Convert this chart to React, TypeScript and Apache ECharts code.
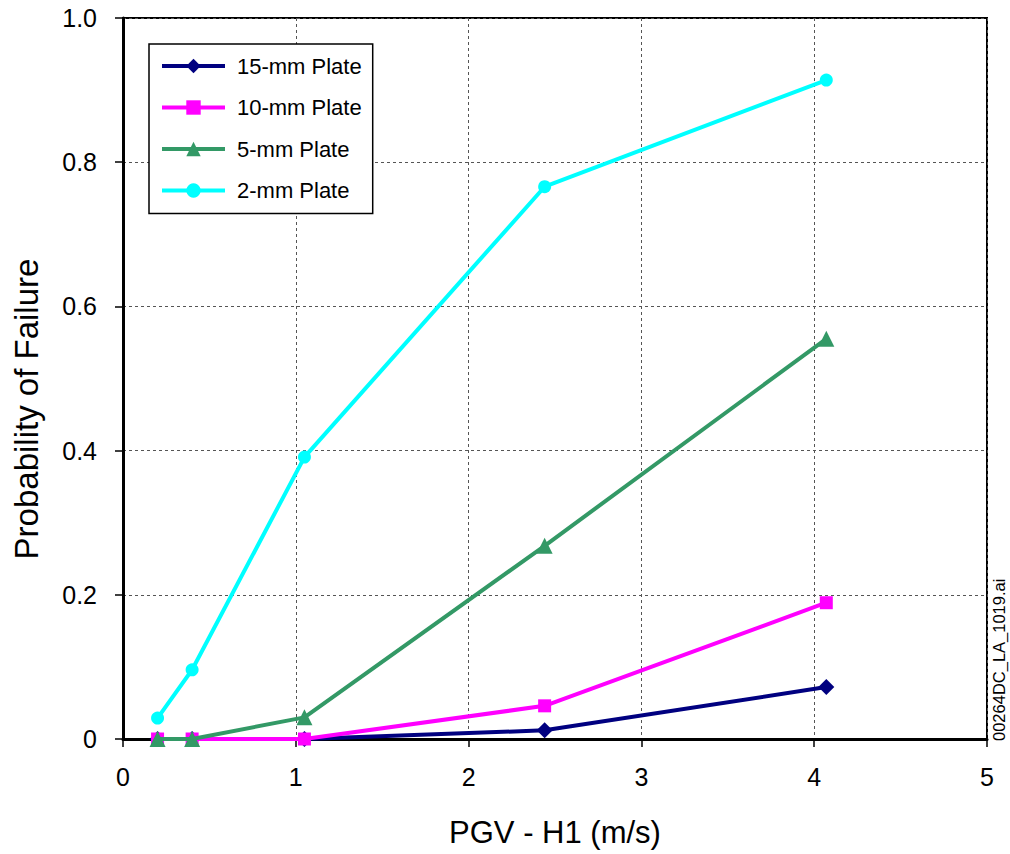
import React, { useEffect, useRef } from "react";
import * as echarts from "echarts";

const pgv = [0.2, 0.4, 1.05, 2.44, 4.07];
const plate15 = [0, 0, 0, 0.012, 0.072];
const plate10 = [0, 0, 0, 0.046, 0.189];
const plate5 = [0, 0, 0.03, 0.268, 0.555];
const plate2 = [0.029, 0.096, 0.391, 0.766, 0.914];
const seriesNames = ["15-mm Plate", "10-mm Plate", "5-mm Plate", "2-mm Plate"];
const seriesColors = ["#000080", "#FF00FF", "#339966", "#00FFFF"];
const seriesSymbols = ["diamond", "rect", "triangle", "circle"];
const seriesSizes = [16, 13, 16, 13];

const App: React.FC = () => {
  const ref = useRef<HTMLDivElement>(null);
  useEffect(() => {
    if (!ref.current) return;
    const chart = echarts.init(ref.current, undefined, { renderer: "svg" });
    const values = [plate15, plate10, plate5, plate2];
    const font = "'Liberation Sans', Arial, sans-serif";
    chart.setOption({
      animation: false,
      backgroundColor: "#fff",
      grid: {
        left: 123,
        right: 23,
        top: 18,
        bottom: 115,
        show: true,
        borderColor: "#000",
        borderWidth: 2,
        backgroundColor: "transparent",
      },
      legend: {
        orient: "vertical",
        left: 149,
        top: 44,
        padding: [11, 11, 12, 11],
        itemGap: 19.5,
        itemWidth: 63,
        itemHeight: 18,
        borderColor: "#000",
        borderWidth: 1.5,
        backgroundColor: "#fff",
        lineStyle: { width: 4 },
        textStyle: { fontFamily: font, fontSize: 22, color: "#000", padding: [0, 0, 0, 7] },
        data: seriesNames,
      },
      xAxis: {
        type: "value",
        min: 0,
        max: 5,
        interval: 1,
        name: "PGV - H1 (m/s)",
        nameLocation: "middle",
        nameGap: 78,
        nameTextStyle: { fontFamily: font, fontSize: 31, color: "#000" },
        axisLine: { onZero: false, lineStyle: { color: "#000", width: 3 } },
        axisTick: { show: true, inside: false, length: 8, lineStyle: { color: "#000", width: 1.5 } },
        axisLabel: { fontFamily: font, fontSize: 25, color: "#000", margin: 25 },
        splitLine: { show: true, lineStyle: { color: "#555", type: [3, 3], width: 1 } },
      },
      yAxis: {
        type: "value",
        min: 0,
        max: 1,
        interval: 0.2,
        axisLine: { show: true, onZero: false, lineStyle: { color: "#000", width: 3 } },
        axisTick: { show: true, inside: false, length: 8, lineStyle: { color: "#000", width: 1.5 } },
        axisLabel: {
          fontFamily: font,
          fontSize: 25,
          color: "#000",
          margin: 26,
          formatter: (v: number) => (v === 0 ? "0" : v.toFixed(1)),
        },
        splitLine: { show: true, lineStyle: { color: "#555", type: [3, 3], width: 1 } },
      },
      series: seriesNames.map((name, i) => ({
        name,
        type: "line",
        data: pgv.map((x, j) => [x, values[i][j]]),
        symbol: seriesSymbols[i],
        symbolSize: seriesSizes[i],
        showAllSymbol: true,
        lineStyle: { color: seriesColors[i], width: 4 },
        itemStyle: { color: seriesColors[i] },
        z: 2 + i,
      })),
      graphic: [
        {
          type: "text",
          x: 43,
          y: 409,
          rotation: Math.PI / 2,
          style: {
            text: "Probability of Failure",
            fontFamily: font,
            fontSize: 33,
            fill: "#000",
            textAlign: "center",
            textVerticalAlign: "bottom",
          },
        },
        {
          type: "text",
          x: 1007,
          y: 741,
          rotation: Math.PI / 2,
          style: {
            text: "00264DC_LA_1019.ai",
            fontFamily: font,
            fontSize: 16.5,
            fill: "#000",
            textAlign: "left",
            textVerticalAlign: "bottom",
          },
        },
      ],
    });
    return () => chart.dispose();
  }, []);
  return (
    <div
      ref={ref}
      style={{ position: "fixed", left: 0, top: 0, width: 1010, height: 854 }}
    />
  );
};

export default App;
